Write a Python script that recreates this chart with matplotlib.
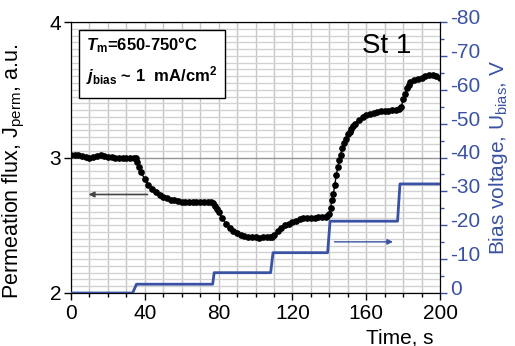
import numpy as np
import matplotlib
matplotlib.use("Agg")
import matplotlib.pyplot as plt
from matplotlib.patches import Rectangle
from matplotlib.transforms import ScaledTranslation

plt.rcParams['font.family'] = ['Liberation Sans', 'DejaVu Sans']
plt.rcParams['axes.unicode_minus'] = False
plt.rcParams['mathtext.fontset'] = 'custom'
plt.rcParams['mathtext.rm'] = 'Liberation Sans'
plt.rcParams['mathtext.it'] = 'Liberation Sans:italic'
plt.rcParams['mathtext.bf'] = 'Liberation Sans:bold'
plt.rcParams['mathtext.bfit'] = 'Liberation Sans:italic:bold'

# permeation flux (left axis)
flux_time = [0, 2, 4, 6, 8, 10, 12, 14, 16, 18, 20, 22, 24, 26, 28, 30, 32, 34, 35.5,
             36, 37, 38, 40, 42, 44, 46, 48, 50, 52, 54, 56, 58, 60, 62, 64, 66, 68,
             70, 72, 74, 76, 77, 78, 79, 80, 82, 84, 86, 88, 90, 92, 94, 96, 98, 100,
             102, 104, 106, 108, 109, 110, 112, 114, 116, 118, 120, 122, 124, 126, 128,
             130, 132, 134, 136, 138, 139, 140, 140.7, 141.4, 142.2, 143, 143.8, 144.6,
             145.4, 146.2, 147, 148, 149, 150, 151, 152, 153, 154, 156, 158, 160, 162,
             164, 166, 168, 170, 172, 174, 176, 178, 179, 180, 181, 182, 183, 184, 186,
             188, 190, 192, 194, 196, 198, 200]
flux_val = [3.02, 3.02, 3.015, 3.01, 3.005, 3.0, 3.005, 3.01, 3.015, 3.01, 3.005, 3.005,
            3.0, 3.0, 3.0, 2.998, 3.0, 3.0, 2.995,
            2.97, 2.93, 2.89, 2.84, 2.80, 2.77, 2.745, 2.725, 2.71, 2.70, 2.69, 2.685,
            2.68, 2.675, 2.675, 2.67, 2.675, 2.675, 2.67, 2.67, 2.67, 2.67, 2.665, 2.64,
            2.62, 2.60, 2.55, 2.51, 2.48, 2.46, 2.44, 2.43, 2.42, 2.415, 2.41, 2.41,
            2.405, 2.41, 2.41, 2.41, 2.415, 2.43, 2.46, 2.48, 2.50, 2.51, 2.525, 2.535,
            2.545, 2.55, 2.555, 2.555, 2.555, 2.56, 2.56, 2.56, 2.565, 2.58, 2.63, 2.69,
            2.73, 2.80, 2.87, 2.93, 2.98, 3.02, 3.07, 3.11, 3.14, 3.17, 3.19, 3.21, 3.23,
            3.25, 3.28, 3.30, 3.31, 3.32, 3.33, 3.335, 3.345, 3.345, 3.345, 3.35, 3.35,
            3.355, 3.37, 3.43, 3.47, 3.51, 3.535, 3.555, 3.57, 3.58, 3.59, 3.60, 3.612,
            3.61, 3.605, 3.59]

# bias voltage (right axis)
bias_time = [0, 33.4, 35.5, 76.8, 77.6, 108.2, 109.5, 139.1, 140.4, 177.0, 178.3, 200]
bias_val = [0, 0, -2.6, -2.6, -6.0, -6.0, -11.9, -11.9, -21.2, -21.2, -32.2, -32.2]

x_ticks = [0, 40, 80, 120, 160, 200]
left_ticks = [2, 3, 4]
right_ticks = [0, -10, -20, -30, -40, -50, -60, -70, -80]

blue = '#3a52a4'

fig = plt.figure(figsize=(5.15, 3.46), dpi=100)
ax = fig.add_axes([71/515, 1 - 293/346, 369/515, 271/346])
ax2 = ax.twinx()

# grid
ax.set_xticks(x_ticks)
ax.set_xticks(np.arange(0, 201, 10), minor=True)
ax.set_yticks(left_ticks)
ax.set_yticks(np.arange(2, 4.001, 0.05), minor=True)
ax.grid(which='minor', axis='x', color='#c6c6c6', lw=1)
ax.grid(which='major', axis='x', color='#c6c6c6', lw=1)
ax.grid(which='minor', axis='y', color='#d2d2d2', lw=1)
ax.grid(which='major', axis='y', color='#959595', lw=1)
ax.set_axisbelow(True)

ax.plot(flux_time, flux_val, color='black', lw=1, marker='o', markersize=3.8, zorder=3)
ax.set_xlim(0, 200)
ax.set_ylim(2, 4)

ax.tick_params(axis='both', which='major', labelsize=15, direction='out', length=5, width=1)
ax.tick_params(axis='x', which='minor', direction='out', length=3, width=1)
ax.tick_params(axis='y', which='minor', length=0)
ax.tick_params(axis='y', pad=2)
ax.tick_params(axis='x', pad=3)

ax.set_ylabel(r'Permeation flux, J$_{\mathregular{perm}}$, a.u.', fontsize=15.5)
ax.yaxis.set_label_coords(-0.118, 0.45)
ax.text(0.892, -0.165, 'Time, s', transform=ax.transAxes, fontsize=15,
        ha='center', va='center')

# text box
ax.add_patch(Rectangle((0.022, 0.72), 0.396, 0.251, transform=ax.transAxes,
                       facecolor='white', edgecolor='black', lw=1, zorder=4))
ax.text(0.04, 0.897, r'$\mathbfit{T}_{\mathbf{m}}$=650-750°C', transform=ax.transAxes,
        fontsize=12, fontweight='bold', va='baseline', zorder=5)
ax.text(0.04, 0.779, r'$\mathbfit{j}_{\mathbf{bias}}$ ~ 1  mA/cm$^{\mathbf{2}}$',
        transform=ax.transAxes, fontsize=12, fontweight='bold', va='baseline', zorder=5)
ax.text(0.789, 0.886, 'St 1', transform=ax.transAxes, fontsize=20, va='baseline')

# arrows
ax.annotate('', xy=(8, 2.727), xytext=(43, 2.727),
            arrowprops=dict(arrowstyle='-|>', color='#444444', lw=1.2, mutation_scale=8))

ax2.plot(bias_time, bias_val, color=blue, lw=2, zorder=3)
ax2.annotate('', xy=(176, -15.1), xytext=(141.3, -15.1),
             arrowprops=dict(arrowstyle='-|>', color=blue, lw=1.0, mutation_scale=8))
ax2.set_ylim(0, -80)
ax2.set_yticks(right_ticks)
ax2.set_yticks(np.arange(0, -81, -5), minor=True)
ax2.tick_params(axis='y', which='major', labelsize=15, colors=blue, direction='out',
                length=5, width=1, pad=2)
ax2.tick_params(axis='y', which='minor', colors=blue, direction='out', length=3, width=1)
ax2.spines['right'].set_color('black')
ax2.set_ylabel(r'Bias voltage, U$_{\mathregular{bias}}$, V', fontsize=15, color=blue)
ax2.yaxis.set_label_coords(1.128, 0.5)

for lbl in ax2.get_yticklabels():
    lbl.set_transform(lbl.get_transform() + ScaledTranslation(0, 4/72, fig.dpi_scale_trans))

fig.savefig('out.png', dpi=100)
